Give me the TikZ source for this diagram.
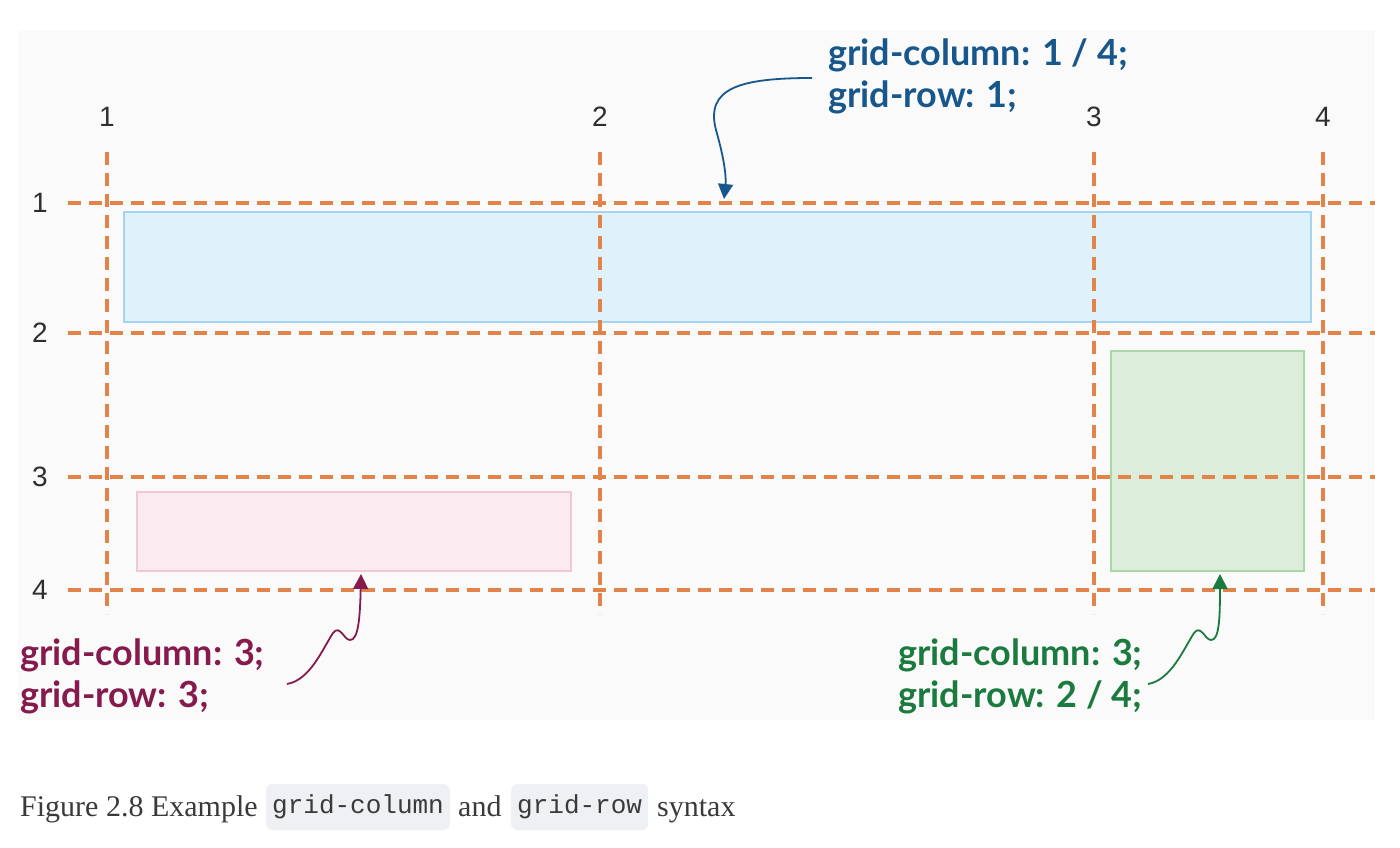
\documentclass[tikz,border=0pt]{standalone}
\usepackage{fontspec}
\setmainfont{Liberation Serif}
\newfontfamily\lblfont{Lato}
\newfontfamily\numfont{Liberation Sans}
\newfontfamily\codefont{Liberation Mono}
\usetikzlibrary{arrows.meta}
\definecolor{panelbg}{HTML}{FAFAFA}
\definecolor{gridor}{HTML}{E2834A}
\definecolor{bluefill}{HTML}{DFF1FB}
\definecolor{blueline}{HTML}{A6D3F0}
\definecolor{greenfill}{HTML}{DCEDDB}
\definecolor{greenline}{HTML}{A9D8A6}
\definecolor{pinkfill}{HTML}{FAEBF1}
\definecolor{pinkline}{HTML}{F2C6D6}
\definecolor{bluetxt}{HTML}{17578C}
\definecolor{greentxt}{HTML}{1B7A3E}
\definecolor{pinktxt}{HTML}{861A4C}
\definecolor{captxt}{HTML}{3A3A3A}
\definecolor{codebg}{HTML}{EEF0F4}
\definecolor{numtxt}{HTML}{2E2E2E}
\tikzset{
  gridline/.style={draw=gridor, line width=3.4pt, dash pattern=on 13pt off 8pt},
  item/.style={line width=2.4pt},
  numlbl/.style={font=\numfont\fontsize{28}{32}\selectfont, text=numtxt, inner sep=0pt},
  codelbl/.style={font=\lblfont\bfseries\fontsize{36}{42}\selectfont, align=left, inner sep=0pt, anchor=base west},
  callout/.style={line width=1.8pt, -{Triangle[length=15pt,width=15pt]}},
  captext/.style={anchor=base west, inner sep=0pt, font=\fontsize{30}{34}\selectfont, text=captxt},
  codebox/.style={fill=codebg, rounded corners=6pt, inner xsep=6pt, inner ysep=0pt, minimum height=46pt, font=\codefont\fontsize{26}{30}\selectfont, text=captxt}
}
\begin{document}
\begin{tikzpicture}[x=1pt,y=-1pt]
\useasboundingbox (0,0) rectangle (1400,848);
\fill[white] (0,0) rectangle (1400,848);
\fill[panelbg] (18,30) rectangle (1375,720);
% items
\draw[item, fill=bluefill, draw=blueline] (124,212) rectangle (1311,322);
\draw[item, fill=greenfill, draw=greenline] (1111,351) rectangle (1304,571);
\draw[item, fill=pinkfill, draw=pinkline] (137,492) rectangle (571,571);
% grid lines
\foreach \x in {107,600,1094,1323} \draw[gridline] (\x,152) -- (\x,614);
\foreach \y in {203,333,477,590} \draw[gridline] (68,\y) -- (1375,\y);
% numbers
\node[numlbl] (c1) at (107,117) {1};
\node[numlbl] (c2) at (600,117) {2};
\node[numlbl] (c3) at (1094,117) {3};
\node[numlbl] (c4) at (1323,117) {4};
\node[numlbl] (r1) at (40,203) {1};
\node[numlbl] (r2) at (40,333) {2};
\node[numlbl] (r3) at (40,477) {3};
\node[numlbl] (r4) at (40,590) {4};
% labels
\node[codelbl, text=bluetxt] (bl) at (828,108) {grid-column: 1 / 4;\\grid-row: 1;};
\node[codelbl, text=pinktxt] (pl) at (20,707) {grid-column: 3;\\grid-row: 3;};
\node[codelbl, text=greentxt] (gl) at (898,707) {grid-column: 3;\\grid-row: 2 / 4;};
% callout coordinates
\coordinate (bs) at (812,78);
\coordinate (bt) at (724,199);
\coordinate (ps) at (287,684);
\coordinate (pt) at (361,574);
\coordinate (gs) at (1148,684);
\coordinate (gt) at (1220,574);
\draw[callout, draw=bluetxt] (bs) .. controls (740,78) and (705,88) .. (716,130) .. controls (726,165) and (726,180) .. (bt);
\draw[callout, draw=pinktxt] (ps) .. controls (310,680) and (322,650) .. (333,633) .. controls (340,624) and (344,640) .. (350,640) .. controls (358,640) and (360,620) .. (pt);
\draw[callout, draw=greentxt] (gs) .. controls (1171,680) and (1183,650) .. (1194,633) .. controls (1201,624) and (1205,640) .. (1211,640) .. controls (1219,640) and (1220,620) .. (gt);
% caption
\node[captext] (cap1) at (20,816) {Figure 2.8 Example};
\node[codebox, anchor=west] (cb1) at (266,807) {grid-column};
\node[captext] (cap2) at (458,816) {and};
\node[codebox, anchor=west] (cb2) at (511,807) {grid-row};
\node[captext] (cap3) at (657,816) {syntax};
\end{tikzpicture}
\end{document}
